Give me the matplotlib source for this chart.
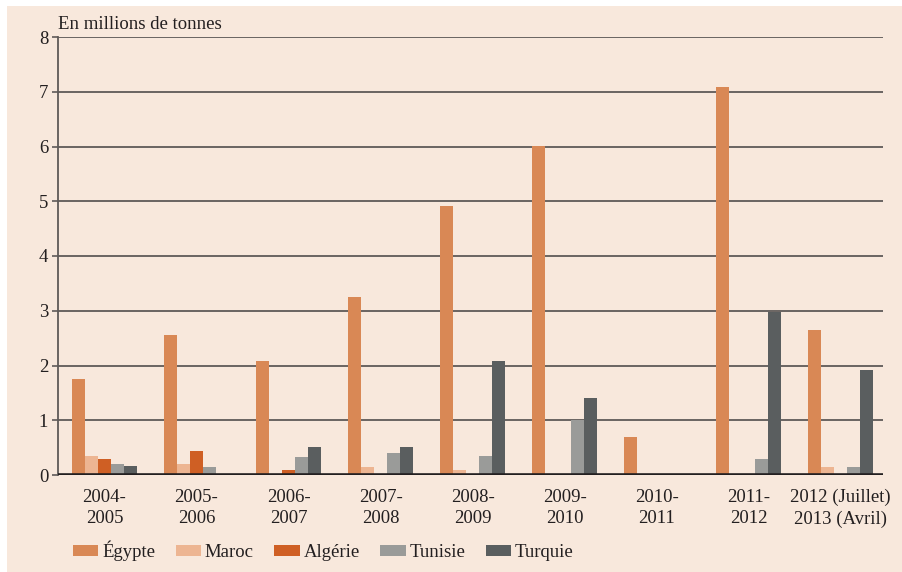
import numpy as np
import matplotlib
matplotlib.use("Agg")
import matplotlib.pyplot as plt
from matplotlib.patches import Rectangle

# values (million tonnes)
CATS = ["2004-\n2005", "2005-\n2006", "2006-\n2007", "2007-\n2008", "2008-\n2009",
        "2009-\n2010", "2010-\n2011", "2011-\n2012", "2012 (Juillet)\n2013 (Avril)"]
EGYPTE  = [1.75, 2.55, 2.08, 3.25, 4.91, 6.01, 0.69, 7.08, 2.65]
MAROC   = [0.34, 0.21, 0.00, 0.14, 0.10, 0.00, 0.00, 0.00, 0.14]
ALGERIE = [0.29, 0.43, 0.10, 0.00, 0.00, 0.00, 0.00, 0.00, 0.00]
TUNISIE = [0.20, 0.14, 0.32, 0.40, 0.34, 1.01, 0.00, 0.30, 0.14]
TURQUIE = [0.16, 0.00, 0.52, 0.51, 2.08, 1.40, 0.00, 2.98, 1.92]
NAMES = ["Égypte", "Maroc", "Algérie", "Tunisie", "Turquie"]
COLORS = ["#D98855", "#EDB592", "#CF5F24", "#9A9B99", "#5A5E5F"]
BG = "#F8E8DC"
FS = 13.5

plt.rcParams["font.family"] = ["Liberation Serif", "DejaVu Serif"]
fig = plt.figure(figsize=(9.03, 5.72), dpi=100)
fig.patches.append(Rectangle((7 / 903, 0), 1, 1 - 6 / 572, transform=fig.transFigure,
                             facecolor=BG, edgecolor="none", zorder=-10))
ax = fig.add_axes([58 / 903, 1 - 475 / 572, (883 - 58) / 903, (475 - 37) / 572])
ax.set_facecolor("none")

x = np.arange(len(CATS))
w = 0.1413
series = [EGYPTE, MAROC, ALGERIE, TUNISIE, TURQUIE]
for i, (vals, name, col) in enumerate(zip(series, NAMES, COLORS)):
    ax.bar(x + (i - 2) * w, vals, width=w, color=col, label=name, zorder=3)

ax.set_xlim(-0.505, 8.46)
ax.set_ylim(0, 8)
ax.set_yticks(range(9))
ax.set_xticks(x)
ax.set_xticklabels(CATS, fontsize=FS, color="#231f20", linespacing=1.32)
ax.tick_params(axis="x", length=0, pad=10)
ax.tick_params(axis="y", length=4, width=1.2, color="#5f5a58", labelsize=FS,
               labelcolor="#231f20", pad=3)
for v in range(1, 9):
    ax.axhline(v, color="#5f5a58", lw=1.3, zorder=1)
ax.axhline(0, color="#231f20", lw=2.6, zorder=4)
for s in ["top", "right", "bottom"]:
    ax.spines[s].set_visible(False)
ax.spines["left"].set_color("#5f5a58")
ax.spines["left"].set_linewidth(1.3)

ax.text(0, 1.01, "En millions de tonnes", transform=ax.transAxes, fontsize=FS,
        color="#231f20", ha="left", va="bottom")

leg = ax.legend(loc="upper left", bbox_to_anchor=(15 / 825, -0.15), ncol=5, frameon=False,
                fontsize=FS, handlelength=1.35, handleheight=0.5, handletextpad=0.2,
                columnspacing=1.1, borderaxespad=0, borderpad=0)
for t in leg.get_texts():
    t.set_color("#231f20")

fig.savefig("out.png", dpi=100)
